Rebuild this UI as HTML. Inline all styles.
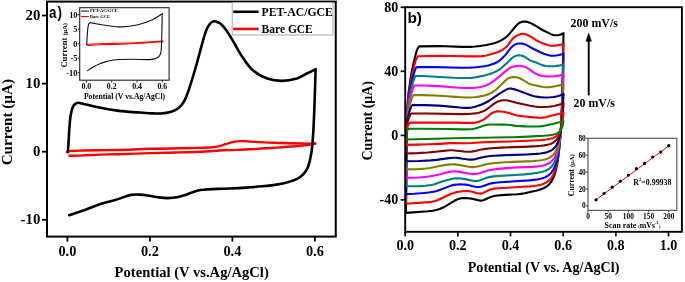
<!DOCTYPE html><html><head><meta charset="utf-8"><style>html,body{margin:0;padding:0;background:#fff;}svg{display:block;will-change:transform;}text{font-family:"Liberation Serif",serif;font-weight:bold;fill:#000;}</style></head><body><svg width="685" height="282" viewBox="0 0 685 282"><rect width="685" height="282" fill="#fff"/><g fill="none" stroke-linejoin="round" stroke-linecap="round"><path d="M67 152.1C67.78 151.9 68.97 151.17 71.7 150.9C74.43 150.63 78.68 150.62 83.4 150.5C88.12 150.38 94.08 150.28 100 150.2C105.92 150.12 110.57 150.23 118.9 150C127.23 149.77 139.82 149.08 150 148.8C160.18 148.52 171.73 148.45 180 148.3C188.27 148.15 194.27 148.07 199.6 147.9C204.93 147.73 208.68 147.6 212 147.3C215.32 147 217.25 146.62 219.5 146.1C221.75 145.58 223.5 144.82 225.5 144.2C227.5 143.58 229.67 142.87 231.5 142.4C233.33 141.93 234.83 141.62 236.5 141.4C238.17 141.18 239.58 141.1 241.5 141.1C243.42 141.1 245.58 141.27 248 141.4C250.42 141.53 251.67 141.67 256 141.9C260.33 142.13 267.5 142.57 274 142.8C280.5 143.03 288.78 143.17 295 143.3C301.22 143.43 307.93 143.57 311.3 143.6C314.67 143.63 314.55 143.52 315.2 143.5" stroke="#ff0000" stroke-width="2.4"/><path d="M315.2 143.5C314.13 143.72 312.17 144.33 308.8 144.8C305.43 145.27 300.8 145.8 295 146.3C289.2 146.8 281.5 147.3 274 147.8C266.5 148.3 258.27 148.88 250 149.3C241.73 149.72 232.73 149.9 224.4 150.3C216.07 150.7 208.23 151.33 200 151.7C191.77 152.07 183.33 152.27 175 152.5C166.67 152.73 159.35 152.82 150 153.1C140.65 153.38 127.23 153.95 118.9 154.2C110.57 154.45 105.92 154.4 100 154.6C94.08 154.8 88.5 155.2 83.4 155.4C78.3 155.6 71.73 155.73 69.4 155.8" stroke="#ff0000" stroke-width="2.4"/><path d="M67.8 152.1C67.88 151.08 68.13 148.35 68.3 146C68.47 143.65 68.62 141 68.8 138C68.98 135 69.15 131.33 69.4 128C69.65 124.67 69.93 120.83 70.3 118C70.67 115.17 71.1 112.97 71.6 111C72.1 109.03 72.63 107.43 73.3 106.2C73.97 104.97 74.73 104.17 75.6 103.6C76.47 103.03 77.27 102.78 78.5 102.8C79.73 102.82 79.53 102.9 83 103.7C86.47 104.5 93.32 106.4 99.3 107.6C105.28 108.8 112.45 110.1 118.9 110.9C125.35 111.7 132.82 112.02 138 112.4C143.18 112.78 146.22 113.02 150 113.2C153.78 113.38 157.15 113.75 160.7 113.5C164.25 113.25 168.35 112.58 171.3 111.7C174.25 110.82 176.33 109.82 178.4 108.2C180.47 106.58 182.22 104.37 183.7 102C185.18 99.63 186.05 97.27 187.3 94C188.55 90.73 189.93 86.4 191.2 82.4C192.47 78.4 193.45 75.03 194.9 70C196.35 64.97 198.45 57.45 199.9 52.2C201.35 46.95 202.45 42.37 203.6 38.5C204.75 34.63 205.68 31.52 206.8 29C207.92 26.48 209.22 24.67 210.3 23.4C211.38 22.13 212.3 21.7 213.3 21.4C214.3 21.1 215.2 21.28 216.3 21.6C217.4 21.92 218.48 22.2 219.9 23.3C221.32 24.4 222.82 25.62 224.8 28.2C226.78 30.78 229.07 34.3 231.8 38.8C234.53 43.3 237.78 50.03 241.2 55.2C244.62 60.37 247.97 65.92 252.3 69.8C256.63 73.68 262.23 76.65 267.2 78.5C272.17 80.35 277.13 80.9 282.1 80.9C287.07 80.9 292.87 79.73 297 78.5C301.13 77.27 303.8 75.03 306.9 73.5C310 71.97 314.15 70 315.6 69.3" stroke="#000" stroke-width="2.6"/><path d="M315.6 69.3C315.5 72.75 315.22 83.22 315 90C314.78 96.78 314.57 103.33 314.3 110C314.03 116.67 313.78 123.67 313.4 130C313.02 136.33 312.5 143.33 312 148C311.5 152.67 311.1 154.75 310.4 158C309.7 161.25 309 164.77 307.8 167.5C306.6 170.23 304.98 172.5 303.2 174.4C301.42 176.3 299.72 177.58 297.1 178.9C294.48 180.22 290.7 181.38 287.5 182.3C284.3 183.22 282.15 183.73 277.9 184.4C273.65 185.07 267.32 185.77 262 186.3C256.68 186.83 251.33 187.23 246 187.6C240.67 187.97 234.73 188.28 230 188.5C225.27 188.72 221.77 188.72 217.6 188.9C213.43 189.08 208.28 189.32 205 189.6C201.72 189.88 200.73 189.87 197.9 190.6C195.07 191.33 191.28 192.92 188 194C184.72 195.08 181.58 196.42 178.2 197.1C174.82 197.78 171.07 198.07 167.7 198.1C164.33 198.13 161.07 197.68 158 197.3C154.93 196.92 152.3 196.25 149.3 195.8C146.3 195.35 143.07 194.75 140 194.6C136.93 194.45 133.9 194.37 130.9 194.9C127.9 195.43 124.62 196.93 122 197.8C119.38 198.67 118.53 199.13 115.2 200.1C111.87 201.07 106.82 202.05 102 203.6C97.18 205.15 91.77 207.47 86.3 209.4C80.83 211.33 72.05 214.23 69.2 215.2" stroke="#000" stroke-width="2.6"/></g><rect x="47" y="1.6" width="288.75" height="235.0" fill="none" stroke="#000" stroke-width="2"/><line x1="42" y1="15.5" x2="47" y2="15.5" stroke="#000" stroke-width="1.8"/><text x="40.3" y="20.1" font-size="14.8" text-anchor="end">20</text><line x1="42" y1="83.6" x2="47" y2="83.6" stroke="#000" stroke-width="1.8"/><text x="40.3" y="88.2" font-size="14.8" text-anchor="end">10</text><line x1="42" y1="151.7" x2="47" y2="151.7" stroke="#000" stroke-width="1.8"/><text x="40.3" y="156.3" font-size="14.8" text-anchor="end">0</text><line x1="42" y1="219.8" x2="47" y2="219.8" stroke="#000" stroke-width="1.8"/><text x="40.3" y="224.4" font-size="14.8" text-anchor="end">-10</text><line x1="67.4" y1="236.6" x2="67.4" y2="241.6" stroke="#000" stroke-width="1.8"/><text x="67.4" y="255.9" font-size="14.3" text-anchor="middle">0.0</text><line x1="149.9" y1="236.6" x2="149.9" y2="241.6" stroke="#000" stroke-width="1.8"/><text x="149.9" y="255.9" font-size="14.3" text-anchor="middle">0.2</text><line x1="232.4" y1="236.6" x2="232.4" y2="241.6" stroke="#000" stroke-width="1.8"/><text x="232.4" y="255.9" font-size="14.3" text-anchor="middle">0.4</text><line x1="314.9" y1="236.6" x2="314.9" y2="241.6" stroke="#000" stroke-width="1.8"/><text x="314.9" y="255.9" font-size="14.3" text-anchor="middle">0.6</text><text x="191.7" y="276.6" font-size="14.6" text-anchor="middle">Potential (V vs.Ag/AgCl)</text><text transform="translate(11.8,122.2) rotate(-90)" font-size="15.2" text-anchor="middle">Current (μA)</text><text transform="translate(49.0,18.0) scale(0.84,1)" font-size="16" style="font-family:'Liberation Sans',sans-serif">a<tspan dx="1.2">)</tspan></text><rect x="232.2" y="2.4" width="100.8" height="32.6" fill="#fff" stroke="#a0a0a0" stroke-width="0.9"/><line x1="233.2" y1="11.8" x2="258.6" y2="11.8" stroke="#000" stroke-width="2.6"/><line x1="233.2" y1="28.9" x2="258.6" y2="28.9" stroke="#ff0000" stroke-width="2.6"/><text x="261.6" y="16" font-size="12.6" textLength="71.2" lengthAdjust="spacingAndGlyphs">PET-AC/GCE</text><text x="261.6" y="32.7" font-size="12.6" textLength="51.2" lengthAdjust="spacingAndGlyphs">Bare GCE</text><rect x="79.7" y="7.7" width="89.4" height="72.5" fill="#fff" stroke="#222" stroke-width="1.1"/><g fill="none" stroke-linejoin="round" stroke-linecap="round"><path d="M86.7 44.3C88.92 44.22 94.45 43.98 100 43.8C105.55 43.62 113.33 43.42 120 43.2C126.67 42.98 132.85 42.85 140 42.5C147.15 42.15 159.08 41.33 162.9 41.1" stroke="#ff0000" stroke-width="1.1"/><path d="M162.9 41.6C159.08 41.88 147.15 42.88 140 43.3C132.85 43.72 126.67 43.85 120 44.1C113.33 44.35 105.43 44.57 100 44.8C94.57 45.03 89.5 45.38 87.4 45.5" stroke="#ff0000" stroke-width="1.1"/><path d="M86.7 44.6C86.78 43.17 87.02 38.68 87.2 36C87.38 33.32 87.57 30.47 87.8 28.5C88.03 26.53 88.2 25.17 88.6 24.2C89 23.23 89.47 22.88 90.2 22.7C90.93 22.52 90.48 22.67 93 23.1C95.52 23.53 100.52 24.67 105.3 25.3C110.08 25.93 116.23 27 121.7 26.9C127.17 26.8 133.08 25.85 138.1 24.7C143.12 23.55 147.78 21.83 151.8 20C155.82 18.17 160.47 14.75 162.2 13.7" stroke="#111" stroke-width="1.1"/><path d="M162.2 13.7C162.17 15.58 162.08 20.62 162 25C161.92 29.38 161.83 35.83 161.7 40C161.57 44.17 161.45 47.58 161.2 50C160.95 52.42 160.67 53.33 160.2 54.5C159.73 55.67 159.27 56.3 158.4 57C157.53 57.7 156.57 58.27 155 58.7C153.43 59.13 152.73 59.5 149 59.6C145.27 59.7 137.43 59.32 132.6 59.3C127.77 59.28 123.18 59.38 120 59.5C116.82 59.62 115.83 59.65 113.5 60C111.17 60.35 108.27 60.98 106 61.6C103.73 62.22 102.07 62.8 99.9 63.7C97.73 64.6 95.05 65.85 93 67C90.95 68.15 88.5 70 87.6 70.6" stroke="#111" stroke-width="1.1"/></g><line x1="77.7" y1="14.7" x2="79.7" y2="14.7" stroke="#222" stroke-width="1"/><text x="77.5" y="17.6" font-size="8.4" text-anchor="end">10</text><line x1="77.7" y1="29.2" x2="79.7" y2="29.2" stroke="#222" stroke-width="1"/><text x="77.5" y="32.1" font-size="8.4" text-anchor="end">5</text><line x1="77.7" y1="43.7" x2="79.7" y2="43.7" stroke="#222" stroke-width="1"/><text x="77.5" y="46.6" font-size="8.4" text-anchor="end">0</text><line x1="77.7" y1="58.2" x2="79.7" y2="58.2" stroke="#222" stroke-width="1"/><text x="77.5" y="61.1" font-size="8.4" text-anchor="end">-5</text><line x1="77.7" y1="72.7" x2="79.7" y2="72.7" stroke="#222" stroke-width="1"/><text x="77.5" y="75.6" font-size="8.4" text-anchor="end">-10</text><line x1="86.4" y1="80.4" x2="86.4" y2="82.4" stroke="#222" stroke-width="1"/><text x="86.4" y="88.7" font-size="7.8" text-anchor="middle">0.0</text><line x1="111.7" y1="80.4" x2="111.7" y2="82.4" stroke="#222" stroke-width="1"/><text x="111.7" y="88.7" font-size="7.8" text-anchor="middle">0.2</text><line x1="137.0" y1="80.4" x2="137.0" y2="82.4" stroke="#222" stroke-width="1"/><text x="137" y="88.7" font-size="7.8" text-anchor="middle">0.4</text><line x1="162.3" y1="80.4" x2="162.3" y2="82.4" stroke="#222" stroke-width="1"/><text x="162.3" y="88.7" font-size="7.8" text-anchor="middle">0.6</text><text x="124.5" y="98.8" font-size="7.7" text-anchor="middle">Potential (V vs.Ag/AgCl)</text><text transform="translate(67.2,67.6) rotate(-90)" font-size="8.6">Current <tspan font-size="6.4">(μA)</tspan></text><line x1="80.9" y1="11.1" x2="89" y2="11.1" stroke="#222" stroke-width="1.1"/><line x1="80.9" y1="16.6" x2="89" y2="16.6" stroke="#ff0000" stroke-width="1.1"/><text x="90" y="12.1" font-size="4.7" textLength="27.8" lengthAdjust="spacingAndGlyphs">PET-AC/GCE</text><text x="90" y="17.6" font-size="4.7" textLength="20.1" lengthAdjust="spacingAndGlyphs">Bare GCE</text><g fill="none" stroke-linejoin="round" stroke-linecap="round"><path d="M406 212.9L406.5 159.61 407 124.63 407.5 107.98 407.75 102.71 408.5 92.99 410.25 80.85 411.75 71.6 413.75 62.25 416.75 50.58 418 47.86 419 46.61 419.25 46.35 439 46.14 445.5 46.26 462 46.84 470.75 46.83 475 46.56 480 45.98 486.5 45.01 491 44.09 495 42.98 498.25 41.77 501.5 40.15 504.75 38.15 506.75 36.6 508.5 34.94 515.25 26.77 516.75 25.1 518 23.89 519.25 22.95 520.25 22.44 522 21.87 523.75 21.58 525.25 21.56 527 21.85 528.75 22.38 531.25 23.37 533.75 24.7 540.25 28.71 543 30.25 551 34.17 553 34.95 554 35.15 556 35.29 557.75 35.24 559.25 35.06 561 34.51 563.5 33.15 562.83 71.7 561.96 103.01 561.46 115.79 560.91 126.94 560.29 136.68 559.55 145.94 558.8 153.21 557.88 160.1 556.96 165.47 555.82 170.54 554.65 174.45 553.21 178.11 551.57 181.16 550.75 182.37 549.69 183.69 548.15 185.25 546.22 186.75 544.06 188.02 541.62 189.1 538.88 190.02 535.8 190.83 524.57 193.21 520.83 193.87 517.34 194.25 501.12 195.12 497.77 195.44 495.13 195.83 493.32 196.2 491.46 196.72 489.54 197.47 483.25 200.25 481.75 200.58 480.75 200.59 479.5 200.44 472.75 198.87 468.75 198.25 464.75 198 463 198.08 461.25 198.3 458.75 198.85 456.5 199.75 454.5 200.79 451 202.82 445.75 206.06 443.5 207.32 439.75 208.93 436.25 210.05 432.75 210.74 428 211.32 406 212.87" stroke="#000000" stroke-width="2.1"/><path d="M406 203.8L406.5 153.71 407 122.87 407.5 107.45 408.25 98.05 410 86.12 411.25 78.69 413 70.75 415.75 60.26 417 57.57 418 56.36 418.25 56.26 442 55.84 451 55.94 470.25 56.35 475.5 56.37 481.75 56.1 484.75 55.78 486.5 55.48 492.5 53.85 496.25 52.65 499.75 51.25 502.5 49.81 505 48.02 507.25 45.9 508.5 44.42 512 39.65 513 38.55 514.25 37.42 516 36.13 517.75 35.16 520.25 34.16 522 33.78 523 33.77 524.25 33.97 526.25 34.53 528 35.19 530.75 36.59 537.25 40.77 539.25 41.87 542.5 43.2 547.25 44.84 549.25 45.44 551.5 45.82 553.75 45.78 558.25 45.14 563.5 44.21 562.83 79 561.96 107.22 561.46 118.73 560.91 128.79 560.29 137.56 559.55 145.91 558.8 152.46 557.88 158.67 556.96 163.51 555.82 168.07 554.65 171.59 553.21 174.86 551.57 177.59 549.69 179.84 548.55 180.89 547.32 181.82 545.99 182.65 544.31 183.49 542.74 184.11 541.04 184.65 536.87 185.58 533.54 186.03 529.79 186.37 518.54 187 507.33 187.8 498.62 188.18 494.23 188.63 491.46 189.18 489.54 189.77 483.25 192.88 481.75 193.38 480.5 193.59 479 193.56 477.5 193.31 472.25 191.75 470 191.3 468 191.15 465.5 191.12 462.5 191.23 460.5 191.44 456 192.31 454 192.88 452 193.59 445.25 196.46 438 200 436 200.79 434.25 201.29 431.75 201.75 428.75 202.09 406 203.76" stroke="#ff0000" stroke-width="2.1"/><path d="M406 194.2L406.75 131.93 407.25 113.89 407.5 109.44 408 103.48 409.5 93.48 410.75 86.37 412.5 78.83 415 70.03 416 68.05 417 66.95 436.75 67.09 460.75 67.68 469.5 67.66 473.75 67.47 478.25 67.03 484.25 66.17 488.25 65.41 491.25 64.59 494.25 63.5 497 62.19 499.25 60.81 501.75 58.71 504.75 55.62 506.5 53.59 510.25 48.6 511.75 46.96 513.5 45.55 515.25 44.44 516.75 43.79 518.25 43.47 520 43.45 522 43.61 523.5 43.9 525.25 44.44 526.75 45.15 530.75 47.44 540.75 52.47 544 53.82 547 54.8 549 55.33 550.5 55.61 552 55.75 554 55.73 556 55.57 559.25 55.03 563.5 53.78 562.83 84.73 561.96 109.82 561.46 120.05 560.91 128.99 560.29 136.78 559.55 144.2 558.8 150.02 557.88 155.54 556.96 159.84 555.82 163.89 554.65 167.02 553.21 169.93 551.57 172.35 549.69 174.35 548.55 175.28 547.11 176.24 545.76 176.96 544.06 177.7 542.46 178.25 540.44 178.8 535.8 179.66 528.9 180.37 500.3 182.22 495.13 182.72 492.39 183.14 489.54 183.77 482 186.4 480.25 186.84 478.5 187.08 476.75 187.06 474.75 186.79 468 185.06 465.5 184.62 463 184.43 460.25 184.36 457.75 184.43 455.25 184.63 453.5 184.94 451.25 185.62 438.25 190.54 436 191.2 433.25 191.8 428.75 192.52 423.5 193.07 414.25 193.78 406 194.18" stroke="#0000ff" stroke-width="2.1"/><path d="M406 186L406.75 127.59 407.25 113.87 407.75 108.13 408 105.99 409 99.84 410.25 92.89 411.75 86.63 414 78.84 415 76.96 415.75 76.13 416 76.03 420.25 76.05 426.75 76.22 453.75 77.78 462.25 78.07 467 78.05 471 77.89 474.25 77.53 478 76.87 485.5 75.16 489.5 74.07 493.5 72.65 497 70.99 499.25 69.63 502 67.48 506.25 63.64 510.5 59.4 512.5 57.71 513.75 56.92 515.5 56.08 517 55.58 518.25 55.37 519.5 55.35 520.75 55.48 522 55.75 523.5 56.23 525 57.01 528.5 59.48 530 60.35 531.5 60.96 535.5 62.28 541.5 64.88 544 65.63 546.25 66 548.75 66.24 551.25 66.32 554 66.23 556 66.03 558.25 65.66 563.5 64.4 562.83 91.08 561.96 112.71 561.46 121.53 560.91 129.23 560.29 135.95 559.55 142.34 558.8 147.36 557.88 152.11 556.96 155.82 555.82 159.31 554.65 162 553.21 164.51 551.57 166.61 549.69 168.34 547.53 169.76 544.81 171 541.62 171.99 537.56 172.83 531.93 173.62 524.06 174.37 514.86 175.01 499.47 175.84 493.32 176.41 490.51 176.86 487.58 177.49 485.57 178.13 480 180.19 478.25 180.67 476.75 180.93 475 181 473 180.81 466.25 179.35 461.25 178.55 458.25 178.3 455.5 178.33 452.5 178.78 446.75 180.23 439.75 182.35 433.75 184.44 432.25 184.83 430.5 185.15 425.25 185.79 419.75 186.12 413.5 186.2 406 186.02" stroke="#008080" stroke-width="2.1"/><path d="M406 177.9L406.5 138.34 406.75 126.4 407 119.4 407.5 112.98 407.75 110.76 409 103.57 410 98.54 411 94.71 413 88.06 414 86.19 414.75 85.43 424 85.51 433 85.85 442.5 86.42 458.5 87.7 465.75 88.03 470 88.05 473.25 87.9 477 87.5 480.75 86.92 483.5 86.25 486 85.4 488.5 84.31 490.75 83.07 492.75 81.65 498.25 77.45 500.5 75.59 506.75 70.11 508 69.12 509.25 68.29 511.25 67.32 513.25 66.63 515.75 66.1 518 65.81 519.75 65.76 521.5 65.93 523.5 66.4 525.5 67.08 526.75 67.69 528.5 68.75 530.5 70.1 533.5 72.37 535 73.26 537 74.22 538.75 74.92 540.75 75.56 542.5 75.97 544.75 76.29 547.25 76.41 551 76.44 554.25 76.32 556.25 76.09 558.25 75.72 563.5 74.39 562.83 97.06 561.96 115.44 561.46 122.93 560.91 129.48 560.29 135.2 559.55 140.64 558.8 144.91 557.88 148.96 556.96 152.12 555.82 155.09 554.65 157.4 553.21 159.54 551.57 161.33 549.69 162.81 547.53 164.01 544.81 165.05 541.62 165.83 537.9 166.4 531.51 166.9 518.54 167.37 512.25 167.72 500.3 168.62 493.32 169.46 490.51 169.95 487.58 170.59 479.5 173.22 477.5 173.73 475.75 174.02 473.75 174.11 471.25 173.92 458.5 171.63 455.75 171.34 453.25 171.32 451.5 171.49 449.5 171.85 439.25 174.57 433.5 175.79 428.75 176.57 425 177 418.5 177.47 412.25 177.75 406 177.89" stroke="#ff00ff" stroke-width="2.1"/><path d="M406 169.4L406.5 134.15 406.75 125.55 407 120.35 407.25 117.84 407.5 115.61 408.5 110.25 409.5 105.62 410.5 102.1 412 97.56 412.25 96.92 412.75 96.08 413.5 95.24 413.75 95.14 423 95.17 434.75 95.5 443.25 95.94 459.25 97.15 466.25 97.44 470.25 97.45 473.25 97.3 476.75 96.95 480.25 96.4 484.5 95.5 487 94.78 489.75 93.67 492.5 92.21 494.75 90.74 496.5 89.32 504.75 81.13 507 79.19 508.25 78.42 510 77.7 511.5 77.28 513 77.07 514.5 77.08 516.25 77.33 518.25 77.84 520.25 78.55 522.5 79.69 528 83.12 529.25 83.75 530.5 84.22 532.5 84.79 539.25 86.31 543 87.01 545 87.22 547.25 87.26 549.75 87.11 552.25 86.81 555 86.34 558 85.69 563.5 83.98 562.83 102.86 561.96 118.14 561.46 124.38 560.85 130.33 560.23 135.02 559.48 139.49 558.72 143 557.8 146.32 556.86 148.92 555.71 151.37 554.53 153.26 553.07 155.03 551.41 156.5 549.51 157.72 547.53 158.64 545.05 159.46 542.46 160.05 539.2 160.55 532.74 161.09 512.91 161.84 501.12 162.49 495.13 162.97 490.51 163.53 486.58 164.18 483.5 164.89 477.75 166.49 474.5 167.04 472.5 167.09 470.25 166.92 457.5 164.63 454.75 164.34 452 164.32 448.5 164.58 444.5 165.14 438.5 166.17 429.75 167.92 425.75 168.52 421.25 168.91 416.5 169.18 406 169.4" stroke="#808000" stroke-width="2.1"/><path d="M406 161.2L406.5 131.23 406.75 125.51 407 122.79 407.25 120.66 409 112.91 409.75 110.57 411.25 106.5 412 105.45 412.5 105.04 425.5 105.13 438.5 105.67 444.75 106.09 460 107.52 464.5 107.84 468.75 107.87 471.75 107.56 474.5 106.95 478 105.84 481.75 104.45 485 102.96 487.75 101.48 490.75 99.68 499.5 93.62 504.5 90.57 507.25 89.15 508.5 88.74 509.5 88.56 510.5 88.55 511.75 88.67 514.5 89.36 518.75 90.79 528.75 94.52 533.25 96.02 536.25 96.66 540 97.16 543.5 97.4 547 97.44 550.25 97.3 553.5 96.96 556.25 96.49 558.25 95.99 560.5 95.17 563.5 93.86 562.83 108.58 561.96 120.47 561.46 125.32 560.85 129.95 560.23 133.6 559.48 137.08 558.72 139.81 557.8 142.4 556.86 144.42 555.71 146.32 554.53 147.8 553.07 149.18 551.41 150.34 549.51 151.3 547.11 152.15 544.06 152.89 540.44 153.46 536.16 153.89 526.56 154.44 501.12 155.34 494.23 155.74 490.51 156.05 486.58 156.56 483.5 157.1 481.25 157.61 475.75 159.11 472.75 159.58 470.5 159.61 468 159.45 462.75 158.76 457.25 157.87 455.5 157.72 453.75 157.71 449 158.11 436.5 159.85 430.75 160.34 419 160.96 406 161.2" stroke="#000080" stroke-width="2.1"/><path d="M406 153.5L406.25 138.74 406.5 130.42 406.75 126.7 407 124.78 408.25 119.82 409.25 117.02 410.5 114.28 411 113.71 411.5 113.44 426.5 113.51 463.25 114.16 468.75 114 475 113.4 477.75 112.94 479.75 112.48 481.75 111.86 483.75 111.04 485.25 110.23 487 109.08 489.5 107.25 493.5 104.07 496 102.49 497.5 101.73 499 101.15 501.25 100.52 503 100.26 506 100.3 509.25 100.71 516.25 102.66 529 105.44 534.75 106.56 538.25 106.94 541.5 107.01 545 106.93 548.5 106.69 551.75 106.34 554.25 105.91 556.75 105.34 563.5 103.39 562.83 113.85 561.96 122.3 561.46 125.75 560.91 128.76 560.29 131.39 559.55 133.9 558.8 135.87 557.88 137.73 556.96 139.19 555.82 140.57 554.65 141.64 553.21 142.64 551.57 143.48 549.69 144.17 547.32 144.8 544.31 145.35 541.04 145.76 536.87 146.12 527.98 146.6 501.12 147.63 494.23 148.04 488.57 148.52 485.57 148.87 481.5 149.53 478.25 150.16 473 151.41 470.25 151.79 468.25 151.81 466 151.7 454.5 150.46 452.25 150.32 450 150.31 445.75 150.6 435.75 151.82 427.5 152.53 417.5 153.11 406 153.49" stroke="#800000" stroke-width="2.1"/><path d="M406 144.9L406.25 135.13 406.5 130.57 406.75 129.09 407.75 126.18 408.5 124.66 409.5 123.07 410.25 122.54 436.75 122.65 451.75 122.61 467.25 122.92 471.5 122.85 475.25 122.61 477 122.28 479.25 121.6 480.75 121.03 482.25 120.33 484 119.34 485.5 118.29 487.75 116.53 490.5 114.16 491.75 113.28 493.25 112.5 494.75 111.9 496 111.55 497.25 111.37 498.75 111.35 500.75 111.47 503.5 111.79 505.75 112.18 510 113.25 515 114.95 517.25 115.46 519.75 115.89 523.25 116.32 533.75 117.34 539.25 117.68 542.75 117.6 545.75 117.18 548.25 116.6 554.25 114.99 563.5 112.8 562.83 119.49 561.96 124.88 560.91 129.01 560.29 130.69 559.55 132.3 558.8 133.56 557.88 134.75 556.86 135.77 555.71 136.65 554.53 137.32 553.07 137.96 551.41 138.5 549.51 138.95 545.53 139.58 540.44 140.06 532.74 140.54 521.39 141.07 510.19 141.47 485.57 142.13 479.25 142.44 471.25 143.03 467 143.22 462 143.3 453.75 143.11 450.5 143.13 439.25 143.84 429.25 144.32 418.25 144.67 406 144.89" stroke="#ff0000" stroke-width="2.1"/><path d="M406 139.5L406.25 133.68 406.5 132.08 407 130.98 407.75 129.87 408.5 129.06 409.25 128.74 422.25 128.76 448 129.01 464.25 129.41 469.25 129.32 472.25 129.08 474.5 128.76 476.75 128.11 481.25 126.4 483.25 125.76 487.75 124.74 489.5 124.52 491 124.45 503.75 124.65 508 124.81 510.75 125.03 514.5 125.59 517.25 125.88 525 126.4 532.25 126.55 538.5 126.44 542 126.14 545.75 125.48 554.5 123.52 563.5 121.2 562.83 124.77 561.96 127.63 561.46 128.8 560.85 129.92 560.23 130.8 559.48 131.65 558.72 132.32 557.8 132.95 556.76 133.5 555.59 133.97 552.79 134.72 549.13 135.28 544.31 135.72 537.22 136.14 523.01 136.83 512.91 137.21 453.5 138.23 406 139.49" stroke="#008000" stroke-width="2.1"/></g><rect x="405.2" y="7.2" width="276.7" height="224.6" fill="none" stroke="#000" stroke-width="1.9"/><line x1="400.6" y1="7.3" x2="405.2" y2="7.3" stroke="#000" stroke-width="1.7"/><text x="398.4" y="11.7" font-size="14.1" text-anchor="end">80</text><line x1="400.6" y1="71.3" x2="405.2" y2="71.3" stroke="#000" stroke-width="1.7"/><text x="398.4" y="75.7" font-size="14.1" text-anchor="end">40</text><line x1="400.6" y1="135.4" x2="405.2" y2="135.4" stroke="#000" stroke-width="1.7"/><text x="398.4" y="139.8" font-size="14.1" text-anchor="end">0</text><line x1="400.6" y1="199.8" x2="405.2" y2="199.8" stroke="#000" stroke-width="1.7"/><text x="398.4" y="204.2" font-size="14.1" text-anchor="end">-40</text><line x1="405.2" y1="231.8" x2="405.2" y2="236.4" stroke="#000" stroke-width="1.7"/><text x="405.2" y="250.4" font-size="14.1" text-anchor="middle">0.0</text><line x1="457.86" y1="231.8" x2="457.86" y2="236.4" stroke="#000" stroke-width="1.7"/><text x="457.86" y="250.4" font-size="14.1" text-anchor="middle">0.2</text><line x1="510.52" y1="231.8" x2="510.52" y2="236.4" stroke="#000" stroke-width="1.7"/><text x="510.52" y="250.4" font-size="14.1" text-anchor="middle">0.4</text><line x1="563.18" y1="231.8" x2="563.18" y2="236.4" stroke="#000" stroke-width="1.7"/><text x="563.18" y="250.4" font-size="14.1" text-anchor="middle">0.6</text><line x1="615.84" y1="231.8" x2="615.84" y2="236.4" stroke="#000" stroke-width="1.7"/><text x="615.84" y="250.4" font-size="14.1" text-anchor="middle">0.8</text><line x1="668.5" y1="231.8" x2="668.5" y2="236.4" stroke="#000" stroke-width="1.7"/><text x="668.5" y="250.4" font-size="14.1" text-anchor="middle">1.0</text><text x="543.6" y="272.2" font-size="14.1" text-anchor="middle">Potential (V vs. Ag/AgCl)</text><text transform="translate(372.4,120.8) rotate(-90)" font-size="14.0" text-anchor="middle">Current (μA)</text><text x="407.4" y="22.7" font-size="15.5" style="font-family:'Liberation Sans',sans-serif">b)</text><line x1="588.7" y1="95.4" x2="588.7" y2="40" stroke="#000" stroke-width="1.9"/><path d="M588.7 32.2 L591.8 41.4 L585.6 41.4 Z" fill="#000"/><text x="570.5" y="26.8" font-size="12.6" textLength="47.4" lengthAdjust="spacingAndGlyphs">200 mV/s</text><text x="573.6" y="107.4" font-size="12.6" textLength="41.3" lengthAdjust="spacingAndGlyphs">20 mV/s</text><rect x="588" y="138.3" width="88.8" height="72.1" fill="#fff" stroke="#5a5a5a" stroke-width="1.2"/><line x1="586" y1="138.3" x2="588" y2="138.3" stroke="#444" stroke-width="1"/><text x="585.8" y="140.8" font-size="7.4" text-anchor="end">80</text><line x1="586" y1="155.2" x2="588" y2="155.2" stroke="#444" stroke-width="1"/><text x="585.8" y="157.7" font-size="7.4" text-anchor="end">60</text><line x1="586" y1="172.2" x2="588" y2="172.2" stroke="#444" stroke-width="1"/><text x="585.8" y="174.7" font-size="7.4" text-anchor="end">40</text><line x1="586" y1="189.1" x2="588" y2="189.1" stroke="#444" stroke-width="1"/><text x="585.8" y="191.6" font-size="7.4" text-anchor="end">20</text><line x1="586" y1="205.9" x2="588" y2="205.9" stroke="#444" stroke-width="1"/><text x="585.8" y="208.4" font-size="7.4" text-anchor="end">0</text><line x1="588" y1="210.4" x2="588" y2="212.4" stroke="#444" stroke-width="1"/><text x="588" y="218.9" font-size="7.4" text-anchor="middle">0</text><line x1="608.2" y1="210.4" x2="608.2" y2="212.4" stroke="#444" stroke-width="1"/><text x="608.2" y="218.9" font-size="7.4" text-anchor="middle">50</text><line x1="628.4" y1="210.4" x2="628.4" y2="212.4" stroke="#444" stroke-width="1"/><text x="628.4" y="218.9" font-size="7.4" text-anchor="middle">100</text><line x1="648.6" y1="210.4" x2="648.6" y2="212.4" stroke="#444" stroke-width="1"/><text x="648.6" y="218.9" font-size="7.4" text-anchor="middle">150</text><line x1="668.8" y1="210.4" x2="668.8" y2="212.4" stroke="#444" stroke-width="1"/><text x="668.8" y="218.9" font-size="7.4" text-anchor="middle">200</text><text x="604.6" y="228.3" font-size="7.9">Scan rate <tspan font-size="4.6" dx="-0.2">(</tspan>mVs<tspan font-size="4.6" dy="-4">-1</tspan><tspan font-size="4.6" dy="4" dx="0.2">)</tspan></text><text transform="translate(573.6,175.2) rotate(-90)" font-size="7.8" text-anchor="middle">Current <tspan font-size="6.6">(μA)</tspan></text><line x1="595.2" y1="200.4" x2="669.8" y2="145.1" stroke="#ff0000" stroke-width="1"/><circle cx="596.08" cy="199.8" r="1.6" fill="#000"/><circle cx="604.16" cy="193.3" r="1.6" fill="#000"/><circle cx="612.24" cy="187.2" r="1.6" fill="#000"/><circle cx="620.32" cy="181.2" r="1.6" fill="#000"/><circle cx="628.4" cy="175" r="1.6" fill="#000"/><circle cx="636.48" cy="168.7" r="1.6" fill="#000"/><circle cx="644.56" cy="163.4" r="1.6" fill="#000"/><circle cx="652.64" cy="157" r="1.6" fill="#000"/><circle cx="660.72" cy="152.1" r="1.6" fill="#000"/><circle cx="668.8" cy="145.7" r="1.6" fill="#000"/><text x="633.2" y="184.6" font-size="8.1" textLength="38.2" lengthAdjust="spacingAndGlyphs">R<tspan font-size="5" dy="-3.6">2</tspan><tspan dy="3.6">=0.99938</tspan></text></svg></body></html>
